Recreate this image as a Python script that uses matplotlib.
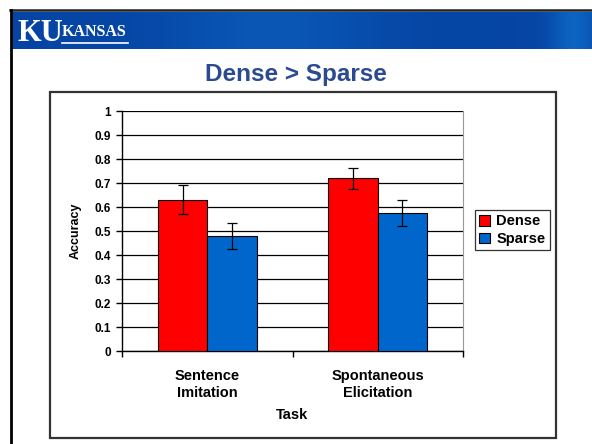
import numpy as np
import matplotlib.pyplot as plt
from matplotlib.patches import Rectangle, Patch
from matplotlib.lines import Line2D

# data
tasks = ["Sentence\nImitation", "Spontaneous\nElicitation"]
dense = [0.63, 0.72]
dense_err = [0.06, 0.043]
sparse = [0.48, 0.575]
sparse_err = [0.054, 0.055]
yticks = [0, 0.1, 0.2, 0.3, 0.4, 0.5, 0.6, 0.7, 0.8, 0.9, 1]
yticklabels = ["0", "0.1", "0.2", "0.3", "0.4", "0.5", "0.6", "0.7", "0.8", "0.9", "1"]

plt.rcParams['font.family'] = ['Liberation Sans', 'DejaVu Sans']
plt.rcParams['font.weight'] = 'bold'

W, H = 592, 444
fig = plt.figure(figsize=(W / 100, H / 100), dpi=100)
fig.patch.set_facecolor('white')

def fx(x):
    return x / W

def fy(y):
    return 1 - y / H

# banner
bax = fig.add_axes([fx(11), fy(49), fx(581), (49 - 12) / H])
grad = np.linspace(0, 1, 300)
light = 0.6 * np.exp(-((grad - 0.45) / 0.18) ** 2) + 1.0 * np.exp(-((grad - 0.97) / 0.04) ** 2)
img = np.zeros((10, 300, 3))
img[:, :, 0] = 0.02 + 0.03 * light
img[:, :, 1] = 0.27 + 0.12 * light
img[:, :, 2] = 0.64 + 0.12 * light
bax.imshow(np.clip(img, 0, 1), aspect='auto', extent=[0, 1, 0, 1])
bax.set_xlim(0, 1)
bax.set_ylim(0, 1)
bax.axis('off')
bax.text(0.012, 0.42, "KU", color='white', fontsize=22, fontweight='bold',
         family='Liberation Serif', va='center', ha='left')
bax.text(0.088, 0.47, "KANSAS", color='white', fontsize=11.5, fontweight='bold',
         family='Liberation Serif', va='center', ha='left')
bax.plot([0.088, 0.202], [0.15, 0.15], color='white', lw=1.2)

# slide borders
fig.add_artist(Line2D([fx(10), 1], [fy(10.5), fy(10.5)], color='#222222', lw=1.8))
fig.add_artist(Line2D([fx(11), fx(11)], [fy(10), 0], color='black', lw=2))

# title
fig.text(fx(296), fy(75), "Dense > Sparse", color='#2B4A8F', fontsize=17.5,
         fontweight='bold', ha='center', va='center')

# chart frame
fig.add_artist(Rectangle((fx(50), fy(438)), fx(506), (438 - 92) / H, fill=False,
                         edgecolor='#333333', lw=1.6))

ax = fig.add_axes([fx(122), fy(351), fx(341), 240 / H])
x = np.arange(len(tasks))
w = 0.29
ax.bar(x - w / 2, dense, w, color='#FF0000', edgecolor='black', lw=0.8, zorder=3,
       yerr=dense_err, error_kw=dict(ecolor='black', elinewidth=0.9, capsize=3.5, capthick=0.9))
ax.bar(x + w / 2, sparse, w, color='#0066CC', edgecolor='black', lw=0.8, zorder=3,
       yerr=sparse_err, error_kw=dict(ecolor='black', elinewidth=0.9, capsize=3.5, capthick=0.9))

ax.set_ylim(0, 1)
ax.set_xlim(-0.5, 1.5)
ax.set_yticks(yticks)
ax.set_yticklabels(yticklabels, fontsize=8.5, fontweight='bold')
ax.yaxis.grid(True, color='black', lw=0.9, zorder=0)
ax.set_axisbelow(True)
ax.tick_params(axis='y', length=4, width=1, pad=4)

ax.set_xticks([-0.5, 0.5, 1.5])
ax.set_xticklabels([])
ax.tick_params(axis='x', which='major', length=4, width=1)
ax.set_xticks(x, minor=True)
ax.set_xticklabels(tasks, minor=True, fontsize=10.5, fontweight='bold', linespacing=1.3)
ax.tick_params(axis='x', which='minor', length=0, pad=13)

for s in ['left', 'bottom']:
    ax.spines[s].set_color('black')
    ax.spines[s].set_linewidth(1)
ax.spines['top'].set_visible(False)
ax.spines['right'].set_color('#999999')

ax.set_ylabel("Accuracy", fontsize=9, fontweight='bold', labelpad=9)
fig.text(fx(292), fy(415), "Task", fontsize=10.5, fontweight='bold', ha='center', va='center')

handles = [Patch(facecolor='#FF0000', edgecolor='black', lw=0.8, label='Dense'),
           Patch(facecolor='#0066CC', edgecolor='black', lw=0.8, label='Sparse')]
leg = fig.legend(handles=handles, loc='upper left', bbox_to_anchor=(fx(475), fy(210)),
                 fancybox=False, edgecolor='black', prop={'size': 10.5, 'weight': 'bold'},
                 handlelength=0.75, handleheight=0.75, handletextpad=0.4,
                 borderpad=0.3, labelspacing=0.25, borderaxespad=0)
leg.get_frame().set_linewidth(0.9)

fig.savefig('out.png', dpi=100)
